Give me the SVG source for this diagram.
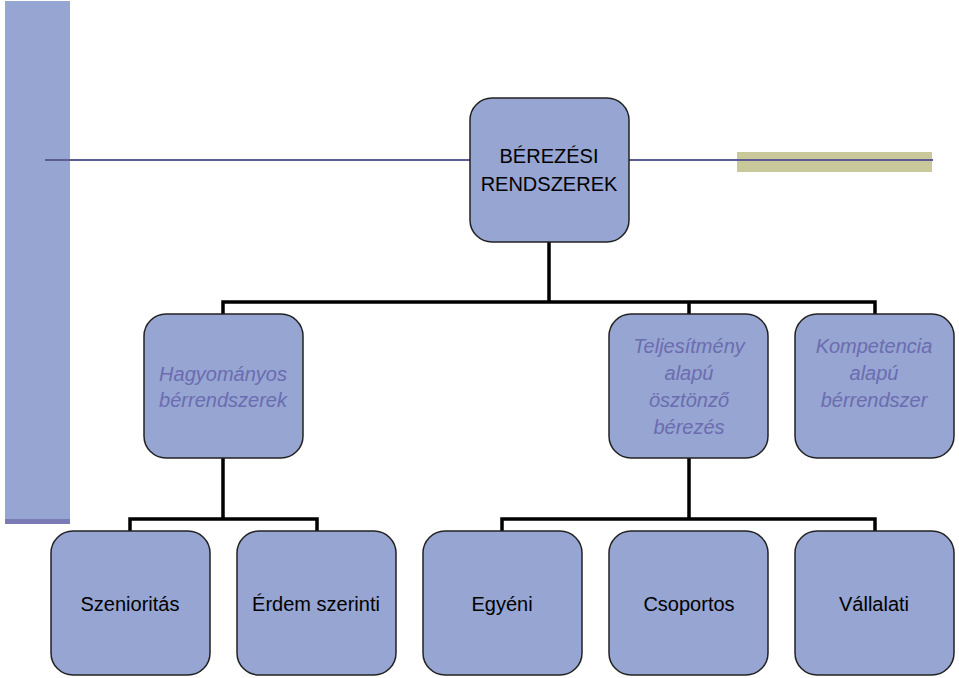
<svg xmlns="http://www.w3.org/2000/svg" width="959" height="678" viewBox="0 0 959 678">
<style>
.n{fill:#96a5d2;stroke:#222;stroke-width:1.5}
.t{font-family:"Liberation Sans",Arial,sans-serif;font-size:20px;text-anchor:middle;fill:#000}
.i{font-style:italic;fill:#6c6cb0}
.c{fill:none;stroke:#000;stroke-width:3.5}
</style>
<rect x="5" y="1" width="65" height="519" fill="#96a5d2"/>
<rect x="5" y="519" width="65" height="5" fill="#7a7ab4"/>
<rect x="737" y="152" width="195" height="20" fill="#c8c89a"/>
<line x1="45" y1="160" x2="933" y2="160" stroke="#5c5c94" stroke-width="2"/>
<g id="connectors">
<path class="c" d="M549 242V302M223 314V302H875V314M689 302V314"/>
<path class="c" d="M223 458V519M130 531V519H317V531"/>
<path class="c" d="M689 458V519M502 531V519H875V531"/>
</g>
<g id="root"><rect class="n" x="470" y="98" width="159" height="144" rx="22"/><text class="t" x="549" y="163">BÉREZÉSI</text><text class="t" x="549" y="191">RENDSZEREK</text></g>
<g id="hagyomanyos"><rect class="n" x="144" y="314" width="159" height="144" rx="22"/><text class="t i" x="223" y="381">Hagyományos</text><text class="t i" x="223" y="407">bérrendszerek</text></g>
<g id="teljesitmeny"><rect class="n" x="609" y="314" width="159" height="144" rx="22"/><text class="t i" x="689" y="353">Teljesítmény</text><text class="t i" x="689" y="380">alapú</text><text class="t i" x="689" y="407">ösztönző</text><text class="t i" x="689" y="434">bérezés</text></g>
<g id="kompetencia"><rect class="n" x="795" y="314" width="159" height="144" rx="22"/><text class="t i" x="874" y="353">Kompetencia</text><text class="t i" x="874" y="380">alapú</text><text class="t i" x="874" y="407">bérrendszer</text></g>
<g id="szenioritas"><rect class="n" x="51" y="531" width="159" height="144" rx="22"/><text class="t" x="130" y="611">Szenioritás</text></g>
<g id="erdem"><rect class="n" x="237" y="531" width="159" height="144" rx="22"/><text class="t" x="316" y="611">Érdem szerinti</text></g>
<g id="egyeni"><rect class="n" x="423" y="531" width="159" height="144" rx="22"/><text class="t" x="502" y="611">Egyéni</text></g>
<g id="csoportos"><rect class="n" x="609" y="531" width="159" height="144" rx="22"/><text class="t" x="689" y="611">Csoportos</text></g>
<g id="vallalati"><rect class="n" x="795" y="531" width="159" height="144" rx="22"/><text class="t" x="874" y="611">Vállalati</text></g>
</svg>
